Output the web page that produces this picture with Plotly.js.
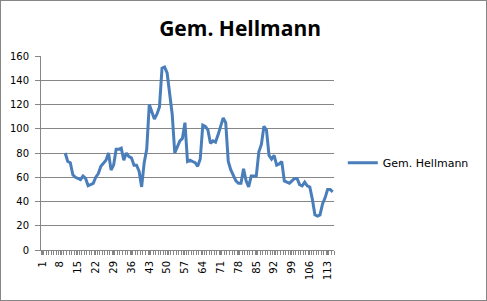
<!DOCTYPE html>
<html>
<head>
<meta charset="utf-8">
<script src="https://cdn.plot.ly/plotly-3.0.1.min.js"></script>
<style>
html,body{margin:0;padding:0;background:#fff;}
#wrap{position:relative;width:487px;height:301px;}
#chart{width:487px;height:301px;}
#frame{position:absolute;left:0;top:0;width:487px;height:301px;box-sizing:border-box;border:1px solid #868686;pointer-events:none;}
</style>
</head>
<body>
<div id="wrap"><div id="chart"></div><div id="frame"></div></div>
<script>
// Categories 1..115; series begins at category 10
const categories = Array.from({length: 115}, (_, i) => i + 1);
const seriesStart = 10;
const hellmann = [
  80, 73, 72, 62, 60, 59, 58, 61, 59, 53,
  54, 55, 60, 63, 69, 72, 74, 80, 66, 70,
  83, 83, 84, 74, 80, 77, 76, 70, 70, 65,
  52, 72, 83, 120, 114, 108, 112, 118, 150, 151,
  146, 129, 112, 80, 85, 90, 92, 105, 73, 74,
  73, 72, 69, 75, 103, 102, 99, 88, 90, 89,
  95, 102, 109, 105, 73, 66, 61, 57, 55, 55,
  67, 57, 52, 61, 61, 61, 81, 87, 102, 99,
  78, 75, 78, 70, 71, 73, 57, 56, 55, 57,
  59, 59, 54, 53, 56, 53, 52, 42, 29, 28,
  29, 38, 43, 50, 50, 48
];
const seriesName = "Gem. Hellmann";
const tickLabels = categories.filter(c => (c - 1) % 7 === 0);

const xs = hellmann.map((_, i) => categories[seriesStart - 1 + i]);

const axisGrey = "#868686";
const font = {family: "DejaVu Sans, Verdana, sans-serif", size: 10, color: "#000"};

Plotly.newPlot("chart", [{
  x: xs,
  y: hellmann,
  type: "scatter",
  mode: "lines",
  name: seriesName,
  line: {color: "#4a7ebb", width: 3}
}], {
  width: 487, height: 301,
  margin: {l: 41, r: 153, t: 56, b: 51},
  paper_bgcolor: "#fff", plot_bgcolor: "#fff",
  title: {text: "<b>" + seriesName + "</b>", font: {family: "Open Sans, Noto Sans, sans-serif", size: 21, color: "#000"}, x: 0.493, xanchor: "center", y: 0.905, yanchor: "middle"},
  font: font,
  showlegend: true,
  legend: {x: 1.03, xanchor: "left", y: 0.45, yanchor: "middle", font: {family: "DejaVu Sans, Verdana, sans-serif", size: 11}, bgcolor: "rgba(0,0,0,0)"},
  xaxis: {
    type: "linear",
    range: [0.5, 115.5],
    tickmode: "array",
    tickvals: tickLabels,
    ticktext: tickLabels.map(String),
    tickangle: -90,
    ticks: "outside", ticklen: 4, tickcolor: axisGrey,
    ticklabelstandoff: 2,
    minor: {dtick: 1, tick0: 0.5, ticks: "outside", ticklen: 4, tickcolor: axisGrey, showgrid: false},
    showgrid: false, zeroline: false,
    showline: true, linecolor: axisGrey, linewidth: 1,
    tickfont: font, fixedrange: true
  },
  yaxis: {
    range: [0, 160],
    dtick: 20,
    ticks: "outside", ticklen: 5, tickcolor: axisGrey,
    ticklabelstandoff: 4,
    showgrid: true, gridcolor: axisGrey, gridwidth: 1,
    zeroline: false,
    showline: true, linecolor: axisGrey, linewidth: 1,
    tickfont: font, fixedrange: true
  }
}, {displayModeBar: false, staticPlot: true});
</script>
</body>
</html>
